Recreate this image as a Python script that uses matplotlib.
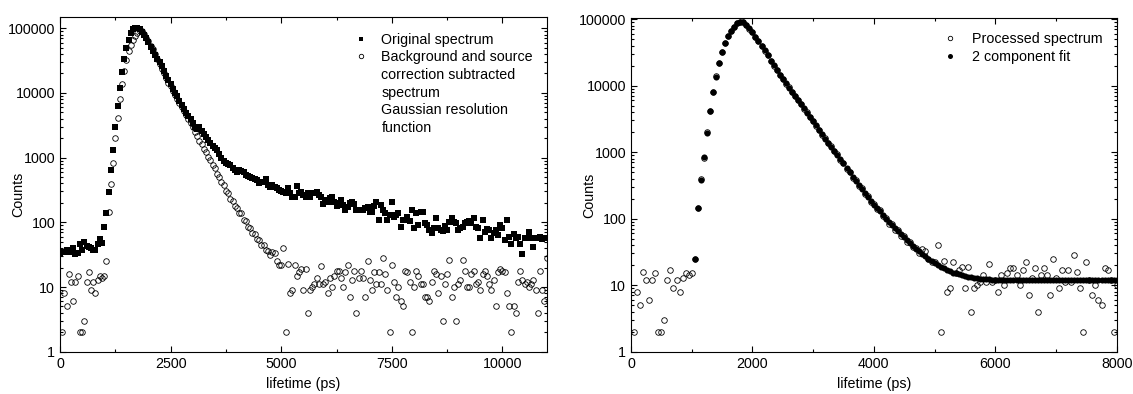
import numpy as np
import matplotlib
matplotlib.use("Agg")
import matplotlib.pyplot as plt
from matplotlib.ticker import MultipleLocator, FixedLocator, LogLocator, FuncFormatter, NullFormatter
from matplotlib.lines import Line2D

plt.rcParams['font.family'] = ['Liberation Sans', 'DejaVu Sans']
plt.rcParams['font.size'] = 10.3

# ---------------- data ----------------
# channel times (ps), 50 ps bins
t_orig = np.arange(0, 11001, 50)
t_proc = np.arange(50, 11001, 50)
t_fit = np.arange(1050, 8001, 50)

orig_counts = [
    # 0 - 950
    33, 35, 35, 37, 35, 37, 40, 32, 34, 47, 37, 50, 43, 41, 40, 37, 37, 47, 55, 48,
    # 1000 - 1750
    85, 138, 291, 643, 1310, 3000, 6340, 12000, 21300, 33000, 48900, 65700, 83400, 97200, 102000, 100000,
    # 1800 - 2750
    96000, 89000, 80000, 71000, 61000, 52000, 45000, 39000, 34000, 30500,
    26000, 22000, 18500, 15800, 13600, 11500, 10100, 8900, 7600, 6450,
    # 2800 - 3750
    5600, 4950, 4400, 3950, 3450, 2950, 2800, 3000, 2550, 2300,
    2050, 1850, 1700, 1500, 1400, 1290, 1150, 1000, 900, 830,
    # 3800 - 4750
    790, 760, 700, 640, 600, 640, 620, 600, 545, 520,
    500, 480, 465, 445, 400, 415, 425, 470, 380, 355,
    # 4800 - 7950
    380, 355, 335, 316, 300, 290, 281, 335, 281, 249,
    249, 370, 281, 297, 264, 249, 281, 249, 281, 281,
    297, 264, 249, 190, 221, 208, 235, 249, 208, 179,
    197, 221, 185, 155, 174, 197, 208, 190, 155, 155,
    155, 155, 164, 174, 146, 146, 180, 208, 109, 185,
    155, 138, 109, 130, 208, 122, 130, 138, 85, 109,
    109, 120, 105, 155,
    # 8000 - 11000
    81, 138, 91, 146, 146, 96, 91, 76, 68, 81,
    115, 83, 76, 74, 88, 76, 100, 115, 102, 97,
    76, 81, 84, 98, 102, 106, 99, 115, 86, 81,
    57, 109, 72, 78, 76, 57, 68, 76, 64, 91,
    81, 53, 109, 59, 47, 66, 57, 60, 47, 32,
    57, 57, 72, 57, 42, 57, 57, 60, 55, 57,
    57,
]

proc_counts = [
    # 50 - 1000
    2, 8, 5, 16, 12, 6, 12, 15, 2, 2, 3, 12, 17, 9, 12, 8, 13, 15, 14, 15,
    # 1050 - 1750
    25, 145, 390, 830, 2000, 4150, 8000, 13800, 22000, 32000, 44000, 56000, 66000, 77000, 86000,
    # 1800 - 2750
    91500, 89500, 82500, 72000, 63500, 54000, 47000, 40000, 33500, 28500,
    23800, 20000, 17100, 14500, 12700, 10700, 9400, 8000, 7050, 6000,
    # 2800 - 3750
    5300, 4500, 3990, 3380, 2980, 2500, 2190, 1840, 1620, 1370,
    1220, 1030, 925, 770, 690, 565, 505, 415, 375, 310,
    # 3800 - 4750
    285, 232, 216, 176, 166, 138, 137, 108, 104, 84,
    83, 68, 67, 55, 54, 45, 45, 37, 36, 31,
    # 4800 - 7950
    35, 33, 25, 22, 22, 40, 2, 23, 8, 9,
    22, 15, 17, 19, 9, 19, 4, 9, 10, 11,
    14, 11, 21, 11, 12, 8, 14, 10, 15, 18,
    18, 14, 10, 17, 22, 7, 13, 18, 4, 14,
    18, 14, 7, 25, 13, 9, 17, 11, 17, 11,
    28, 16, 9, 2, 22, 12, 7, 10, 6, 5,
    18, 17, 12, 2,
    # 8000 - 11000
    10, 18, 15, 11, 11, 7, 7, 6, 12, 18,
    16, 8, 15, 3, 11, 16, 26, 7, 10, 3,
    11, 13, 26, 18, 10, 10, 16, 18, 11, 12,
    9, 16, 18, 15, 11, 9, 13, 5, 17, 19,
    18, 17, 8, 5, 2, 5, 4, 12, 18, 13,
    11, 12, 10, 11, 13, 9, 4, 18, 9, 6,
    28,
]

fit_counts = [
    # 1050 - 1750
    25, 145, 385, 840, 1970, 4100, 7900, 13700, 22200, 32500, 44300, 55900, 65500, 77000, 86500,
    # 1800 - 2750
    92000, 89000, 82000, 72500, 63000, 54500, 46800, 39800, 33900, 28400,
    23700, 20100, 17000, 14600, 12600, 10800, 9330, 8080, 7000, 6060,
    # 2800 - 3750
    5250, 4550, 3940, 3410, 2950, 2530, 2160, 1860, 1600, 1390,
    1200, 1045, 912, 785, 676, 578, 495, 426, 367, 318,
    # 3800 - 4750
    275, 240, 209, 183, 160, 144, 130, 114, 100, 89,
    80, 72, 65, 58.5, 52.5, 47.3, 42.7, 39, 35.5, 32.6,
    # 4800 - 5750
    29.9, 27.4, 25.1, 23.3, 21.6, 20.2, 19.0, 17.9, 17.0, 16.2,
    15.5, 15.0, 14.5, 14.0, 13.6, 13.3, 13.1, 12.9, 12.7, 12.55,
    # 5800 - 6000
    12.4, 12.3, 12.25, 12.15, 12.1,
    # 6050 - 8000
    12.05, 12.0, 12.0, 12.0, 12.0, 12.0, 12.0, 12.0, 12.0, 12.0,
    12.0, 12.0, 12.0, 12.0, 12.0, 12.0, 12.0, 12.0, 12.0, 12.0,
    12.0, 12.0, 12.0, 12.0, 12.0, 12.0, 12.0, 12.0, 12.0, 12.0,
    12.0, 12.0, 12.0, 12.0, 12.0, 12.0, 12.0, 12.0, 12.0, 12.0,
]

y_ticks = [1, 10, 100, 1000, 10000, 100000]
x_ticks_left = [0, 2500, 5000, 7500, 10000]
x_ticks_right = [0, 2000, 4000, 6000, 8000]

legend_left = ['Original spectrum', 'Background and source', 'correction subtracted',
               'spectrum', 'Gaussian resolution', 'function']
legend_right = ['Processed spectrum', '2 component fit']

# ---------------- figure ----------------
W, H = 1133, 394
fig = plt.figure(figsize=(W / 100, H / 100), dpi=100)
ax1 = fig.add_axes([60 / W, 1 - 351.7 / H, 486.7 / W, 335.0 / H])
ax2 = fig.add_axes([631 / W, 1 - 351.7 / H, 485.7 / W, 333.7 / H])

ax1.plot(t_orig, orig_counts, ls='none', marker='s', ms=3.8, mew=0, color='black', zorder=2)
ax1.plot(t_proc, proc_counts, ls='none', marker='o', ms=4.0, mew=0.6, mfc='none', mec='black', zorder=3)

ax2.plot(t_proc, proc_counts, ls='none', marker='o', ms=4.0, mew=0.6, mfc='none', mec='black', zorder=2)
ax2.plot(t_fit, fit_counts, ls='none', marker='o', ms=4.4, mew=0, color='black', zorder=3)

fmt = FuncFormatter(lambda v, p: f'{int(round(v))}')
for ax, xt, xmax, ytop, xminor in [(ax1, x_ticks_left, 11000, 1.51e5, 1250),
                                    (ax2, x_ticks_right, 8000, 1.04e5, 1000)]:
    ax.set_yscale('log')
    ax.set_xlim(0, xmax)
    ax.set_ylim(1, ytop)
    ax.xaxis.set_major_locator(FixedLocator(xt))
    ax.xaxis.set_minor_locator(MultipleLocator(xminor))
    ax.yaxis.set_major_locator(FixedLocator(y_ticks))
    ax.yaxis.set_minor_locator(LogLocator(base=10, subs=range(2, 10), numticks=20))
    ax.yaxis.set_major_formatter(fmt)
    ax.yaxis.set_minor_formatter(NullFormatter())
    ax.tick_params(which='both', direction='in', top=True, right=True, width=0.8, labelsize=10.3)
    ax.tick_params(which='major', length=4)
    ax.tick_params(which='minor', length=2)
    for s in ax.spines.values():
        s.set_linewidth(0.8)
    ax.set_xlabel('lifetime (ps)', fontsize=10.3)
    ax.set_ylabel('Counts', fontsize=10.3)
    ax.xaxis.set_label_coords(0.5, -0.075)

ax1.yaxis.set_label_coords(-0.072, 0.47)
ax2.yaxis.set_label_coords(-0.072, 0.467)

blank = Line2D([], [], ls='none', marker=None)
h_left = [Line2D([], [], ls='none', marker='s', ms=3.0, mew=0, color='black'),
          Line2D([], [], ls='none', marker='o', ms=3.2, mew=0.6, mfc='none', mec='black'),
          blank, blank, blank, blank]
ax1.legend(h_left, legend_left, loc='upper left', bbox_to_anchor=(0.603, 0.952),
           frameon=False, borderpad=0, borderaxespad=0, handlelength=1.0,
           handletextpad=0.95, labelspacing=0.25, fontsize=10.3)

h_right = [Line2D([], [], ls='none', marker='o', ms=3.2, mew=0.6, mfc='none', mec='black'),
           Line2D([], [], ls='none', marker='o', ms=3.6, mew=0, color='black')]
ax2.legend(h_right, legend_right, loc='upper left', bbox_to_anchor=(0.643, 0.958),
           frameon=False, borderpad=0, borderaxespad=0, handlelength=1.0,
           handletextpad=1.0, labelspacing=0.25, fontsize=10.3)

fig.savefig('out.png', dpi=100)
